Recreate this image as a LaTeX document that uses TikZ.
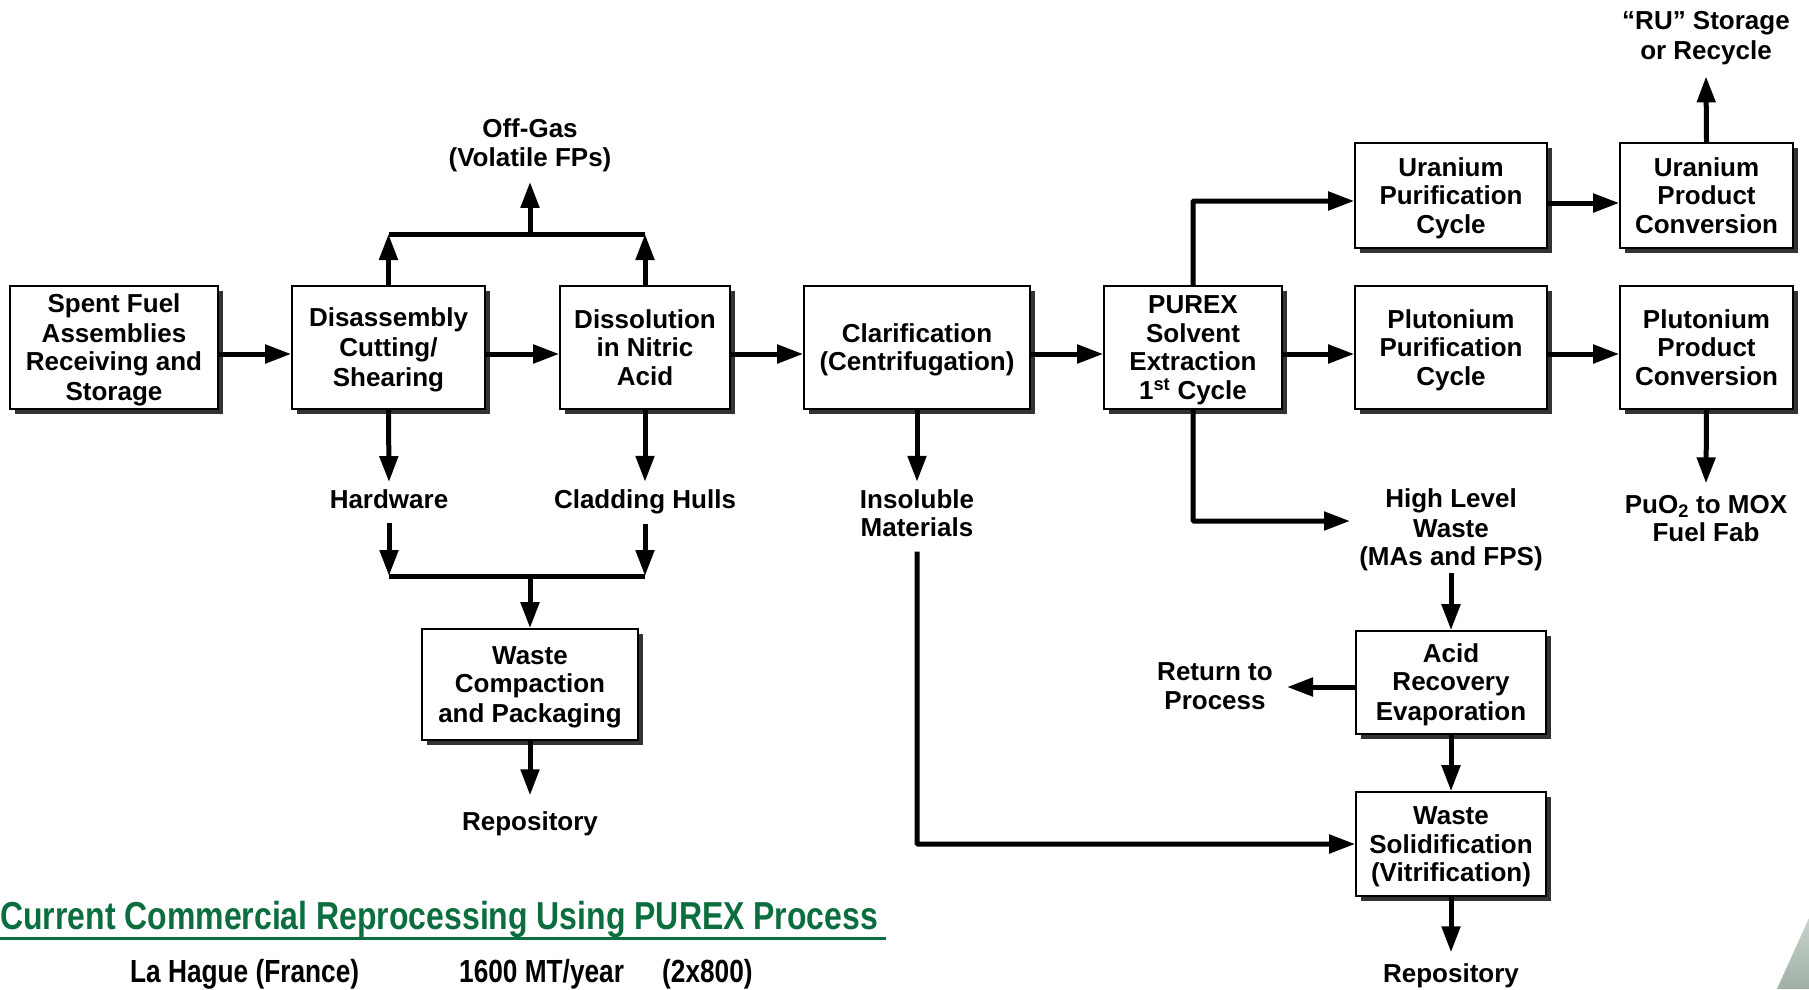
\documentclass[tikz,border=0pt]{standalone}
\usepackage{fontspec}
\setmainfont{Liberation Sans}
\newfontfamily\narrowfont[FakeStretch=0.82]{Liberation Sans}
\usetikzlibrary{arrows.meta,shadows}
\definecolor{titlegreen}{RGB}{12,110,62}
\definecolor{cornerlight}{RGB}{200,210,203}
\definecolor{cornerdark}{RGB}{160,176,166}
\newcommand\stl{\vrule height 23.5pt depth 5pt width 0pt}
\begin{document}
\begin{tikzpicture}[x=1pt,y=-1pt,
  every node/.style={font=\fontsize{26}{28.5}\selectfont\bfseries},
  box/.style={draw=black,line width=1.6pt,fill=white,align=center,inner sep=0pt,
     drop shadow={shadow xshift=5pt,shadow yshift=-5pt,fill=black!80,opacity=1}},
  lbl/.style={align=center,inner sep=0pt},
  arr/.style={line width=5pt,-{Triangle[length=26pt,width=18pt]}},
  ln/.style={line width=5pt},
  foot/.style={anchor=base west,inner sep=0pt,font={\narrowfont\bfseries\fontsize{32}{36}\selectfont}}
]
\useasboundingbox (0,0) rectangle (1809,989);

% boxes
\node[box,minimum width=208pt,minimum height=123pt] (spent) at (114,347.5)
  {\stl Spent Fuel\\\stl Assemblies\\\stl Receiving and\\\stl Storage};
\node[box,minimum width=193pt,minimum height=123pt] (dis) at (388.5,347.5)
  {\stl Disassembly\\\stl Cutting/\\\stl Shearing};
\node[box,minimum width=170pt,minimum height=123pt] (dissol) at (645,347.5)
  {\stl Dissolution\\\stl in Nitric\\\stl Acid};
\node[box,minimum width=226pt,minimum height=123pt] (clar) at (917,347.5)
  {\stl Clarification\\\stl (Centrifugation)};
\node[box,minimum width=178pt,minimum height=123pt] (purex) at (1193,347.5)
  {\stl PUREX\\\stl Solvent\\\stl Extraction\\\stl 1\textsuperscript{st} Cycle};
\node[box,minimum width=192pt,minimum height=105pt] (upur) at (1451,195.5)
  {\stl Uranium\\\stl Purification\\\stl Cycle};
\node[box,minimum width=173pt,minimum height=105pt] (uprod) at (1706.5,195.5)
  {\stl Uranium\\\stl Product\\\stl Conversion};
\node[box,minimum width=192pt,minimum height=123pt] (pupur) at (1451,347.5)
  {\stl Plutonium\\\stl Purification\\\stl Cycle};
\node[box,minimum width=173pt,minimum height=123pt] (puprod) at (1706.5,347.5)
  {\stl Plutonium\\\stl Product\\\stl Conversion};
\node[box,minimum width=216pt,minimum height=111pt] (wcomp) at (530,684.5)
  {\stl Waste\\\stl Compaction\\\stl and Packaging};
\node[box,minimum width=190pt,minimum height=103pt] (acid) at (1451,682.5)
  {\stl Acid\\\stl Recovery\\\stl Evaporation};
\node[box,minimum width=190pt,minimum height=104pt] (wsol) at (1451,844)
  {\stl Waste\\\stl Solidification\\\stl (Vitrification)};

% labels
\node[lbl] (offgas) at (530,143) {\stl Off-Gas\\\stl (Volatile FPs)};
\node[lbl] (hw) at (389,499) {\stl Hardware};
\node[lbl] (clad) at (645,499) {\stl Cladding Hulls};
\node[lbl] (insol) at (917,513) {\stl Insoluble\\\stl Materials};
\node[lbl] (hlw) at (1451,527.5) {\stl High Level\\\stl Waste\\\stl (MAs and FPS)};
\node[lbl] (puo) at (1706,518) {\stl PuO\textsubscript{2} to MOX\\\stl Fuel Fab};
\node[lbl] (ret) at (1215,685.5) {\stl Return to\\\stl Process};
\node[lbl] (repl) at (530,821) {\stl Repository};
\node[lbl] (repr) at (1451,973.5) {\stl Repository};
\node[lbl] (ru) at (1706,35.75) {\stl “RU” Storage\\\stl or Recycle};

% coordinates
\coordinate (row) at (0,354);
\coordinate (offjn) at (530,234);
\coordinate (botjn) at (530,576);
\coordinate (urow) at (0,201);
\coordinate (urow2) at (0,203);
\coordinate (hlwin) at (1350,521);
\coordinate (retrow) at (0,687);
\coordinate (retend) at (1287,687);

% main row
\draw[arr] (spent.east |- row) -- (dis.west |- row);
\draw[arr] (dis.east |- row) -- (dissol.west |- row);
\draw[arr] (dissol.east |- row) -- (clar.west |- row);
\draw[arr] (clar.east |- row) -- (purex.west |- row);
\draw[arr] (purex.east |- row) -- (pupur.west |- row);
\draw[arr] (pupur.east |- row) -- (puprod.west |- row);

% off-gas
\draw[ln] (dis.north |- offjn) -- (dissol.north |- offjn);
\draw[arr] (dis.north) -- (dis.north |- offjn);
\draw[arr] (dissol.north) -- (dissol.north |- offjn);
\draw[arr] (offjn) -- ([yshift=-10pt]offgas.south);

% hardware / hulls
\draw[arr] (dis.south) -- ([yshift=2.5pt]hw.north);
\draw[arr] (dissol.south) -- ([yshift=2.5pt]clad.north);
\draw[ln] (hw.south |- botjn) -- (clad.south |- botjn);
\draw[arr] ([yshift=-10pt]hw.south) -- (hw.south |- botjn);
\draw[arr] ([yshift=-10pt]clad.south) -- (clad.south |- botjn);
\draw[arr] (botjn) -- (wcomp.north);
\draw[arr] (wcomp.south) -- ([yshift=11pt]repl.north);

% insoluble
\draw[arr] (clar.south) -- ([yshift=2.5pt]insol.north);
\draw[arr,rounded corners=1pt] ([yshift=-10pt]insol.south) |- (wsol.west);

% uranium
\draw[arr,rounded corners=1pt] (purex.north) |- (upur.west |- urow);
\draw[arr] (upur.east |- urow2) -- (uprod.west |- urow2);
\draw[arr] (uprod.north) -- ([yshift=-11pt]ru.south);

% plutonium
\draw[arr] (puprod.south) -- ([yshift=6pt]puo.north);

% high level waste
\draw[arr,rounded corners=1pt] (purex.south) |- (hlwin);
\draw[arr] ([yshift=-2pt]hlw.south) -- (acid.north);
\draw[arr] (acid.west |- retrow) -- (retend);
\draw[arr] (acid.south) -- (wsol.north);
\draw[arr] (wsol.south) -- ([yshift=6.5pt]repr.north);

% footer
\node[anchor=base west,inner sep=0pt,text=titlegreen,
  font={\narrowfont\bfseries\fontsize{39}{44}\selectfont}] (title) at (0,929)
  {Current Commercial Reprocessing Using PUREX Process};
\draw[titlegreen,line width=3pt] (title.base west |- 0,938) -- (886,938);
\node[foot] (site) at (130,982.5) {La Hague (France)};
\node[foot] (cap) at (459,982.5) {1600 MT/year};
\node[foot] (split) at (662,982.5) {(2x800)};

% corner
\shade[top color=cornerlight,bottom color=cornerdark] (1777,989) -- (1809,918) -- (1809,989) -- cycle;
\end{tikzpicture}
\end{document}
